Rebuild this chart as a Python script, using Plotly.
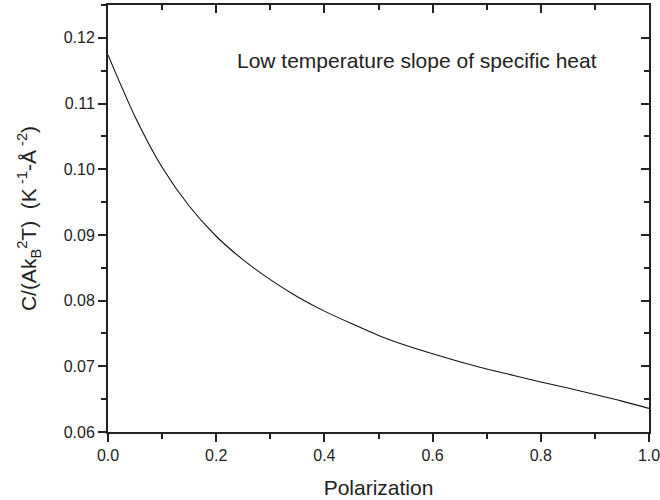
import plotly.graph_objects as go

# Data
polarization = [0.0, 0.05, 0.1, 0.15, 0.2, 0.25, 0.3, 0.35, 0.4, 0.45, 0.5,
                0.55, 0.6, 0.65, 0.7, 0.75, 0.8, 0.85, 0.9, 0.95, 1.0]
slope_c = [0.1174, 0.1080, 0.1003, 0.0944, 0.0898, 0.0862, 0.0832, 0.0806,
           0.0784, 0.0765, 0.0747, 0.0732, 0.0719, 0.0707, 0.0696, 0.0686,
           0.0676, 0.0667, 0.0657, 0.0647, 0.0636]

x_ticks = [0.0, 0.2, 0.4, 0.6, 0.8, 1.0]
x_ticklabels = ["0.0", "0.2", "0.4", "0.6", "0.8", "1.0"]
y_ticks = [0.06, 0.07, 0.08, 0.09, 0.10, 0.11, 0.12]
y_ticklabels = ["0.06", "0.07", "0.08", "0.09", "0.10", "0.11", "0.12"]

FONT = "Liberation Sans, Arial, sans-serif"
AX = "#222222"
NB = "\u00a0"

fig = go.Figure()
fig.add_trace(go.Scatter(x=polarization, y=slope_c, mode="lines",
                         line=dict(color="#111111", width=1.1, shape="spline", smoothing=0.8),
                         showlegend=False, hoverinfo="skip"))
# dummy trace for the mirrored (inward-tick) top/right axes
fig.add_trace(go.Scatter(x=[None], y=[None], xaxis="x2", yaxis="y2",
                         showlegend=False, hoverinfo="skip"))

common = dict(showgrid=False, zeroline=False, showline=True,
              linecolor=AX, linewidth=2, tickcolor=AX)

ytitle = ("C/(Ak<sub>B</sub><sup>2</sup>T)" + NB + NB + "(K<sup>" + NB + "-1</sup>-Å<sup>"
          + NB + "-2</sup>)")

fig.update_layout(
    width=660, height=500,
    margin=dict(l=108, r=11, t=5, b=68),
    paper_bgcolor="white", plot_bgcolor="white",
    font=dict(family=FONT, color=AX),
    xaxis=dict(range=[0, 1.0], tickvals=x_ticks, ticktext=x_ticklabels,
               ticks="outside", ticklen=8, tickwidth=1.5, ticklabeloverflow="allow",
               minor=dict(dtick=0.1, ticks="outside", ticklen=5, tickwidth=1.5, tickcolor=AX),
               tickfont=dict(size=16, family=FONT, color=AX),
               title=dict(text="Polarization", font=dict(size=21, family=FONT, color=AX),
                          standoff=17),
               automargin=False, **common),
    yaxis=dict(range=[0.06, 0.125], tickvals=y_ticks, ticktext=y_ticklabels,
               ticks="outside", ticklen=8, tickwidth=1.5, ticklabeloverflow="allow",
               minor=dict(dtick=0.005, ticks="outside", ticklen=5, tickwidth=1.5, tickcolor=AX),
               tickfont=dict(size=16, family=FONT, color=AX),
               title=dict(text=ytitle, font=dict(size=21, family=FONT, color=AX), standoff=21),
               automargin=False, **common),
    xaxis2=dict(range=[0, 1.0], overlaying="x", anchor="y2", side="top",
                tickvals=x_ticks, showticklabels=False,
                ticks="inside", ticklen=8, tickwidth=1.5,
                minor=dict(dtick=0.1, ticks="inside", ticklen=5, tickwidth=1.5, tickcolor=AX),
                **common),
    yaxis2=dict(range=[0.06, 0.125], overlaying="y", anchor="x2", side="right",
                tickvals=y_ticks, showticklabels=False,
                ticks="inside", ticklen=8, tickwidth=1.5,
                minor=dict(dtick=0.005, ticks="inside", ticklen=5, tickwidth=1.5, tickcolor=AX),
                **common),
    annotations=[dict(x=0.234, y=0.1166, xref="x", yref="y", xanchor="left",
                      yanchor="middle", showarrow=False,
                      text="Low temperature slope of specific heat",
                      font=dict(size=21, family=FONT, color=AX))],
)

fig.write_html("out.html", config={"displayModeBar": False},
               post_script="document.body.style.margin='0';")
